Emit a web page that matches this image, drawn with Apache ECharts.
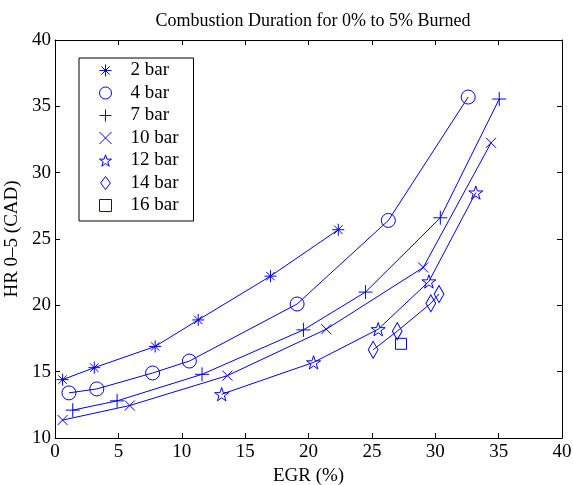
<!DOCTYPE html>
<html>
<head>
<meta charset="utf-8">
<script src="https://cdn.jsdelivr.net/npm/echarts@6/dist/echarts.min.js"></script>
<style>html,body{margin:0;padding:0;background:#fff;}#c{width:573px;height:485px;}</style>
</head>
<body>
<div id="c"></div>
<script>
// Data (EGR %, HR 0-5 CAD)
const seriesNames = ['2 bar', '4 bar', '7 bar', '10 bar', '12 bar', '14 bar', '16 bar'];
const bar2  = [[0.6, 14.4], [3.1, 15.3], [7.9, 16.9], [11.3, 18.9], [17.0, 22.2], [22.35, 25.7]];
const bar4  = [[1.1, 13.4], [3.3, 13.7], [7.7, 14.9], [10.6, 15.8], [19.1, 20.1], [26.3, 26.4], [32.6, 35.7]];
const bar7  = [[1.4, 12.1], [4.9, 12.8], [11.6, 14.8], [19.6, 18.15], [24.5, 21.0], [30.4, 26.6], [35.05, 35.55]];
const bar10 = [[0.6, 11.35], [5.9, 12.45], [13.6, 14.7], [21.4, 18.2], [29.05, 22.85], [34.4, 32.25]];
const bar12 = [[13.15, 13.3], [20.4, 15.7], [25.5, 18.2], [29.5, 21.8], [33.2, 28.5]];
const bar14 = [[25.1, 16.65], [27.0, 18.05], [29.65, 20.15], [30.3, 20.85]];
const bar16 = [[27.3, 17.1]];
const xTicks = [0, 5, 10, 15, 20, 25, 30, 35, 40];
const yTicks = [10, 15, 20, 25, 30, 35, 40];

const BLUE = '#0000ff';
const FONT = 'Liberation Serif';
const SYM = {
  asterisk: 'path://M5,0L5,10M0,5L10,5M1.5,1.5L8.5,8.5M1.5,8.5L8.5,1.5',
  circle: 'path://M10,0A10,10 0 1,1 9.99,0Z',
  plus: 'path://M5,0L5,10M0,5L10,5',
  cross: 'path://M0,0L10,10M0,10L10,0',
  star: 'path://M10,0L12.245,6.91L19.51,6.91L13.63,11.18L15.88,18.09L10,13.82L4.12,18.09L6.37,11.18L0.49,6.91L7.755,6.91Z',
  diamond: 'path://M6,0L12,8L6,16L0,8Z',
  square: 'path://M0,0L10,0L10,10L0,10Z'
};
const symbols = [SYM.asterisk, SYM.circle, SYM.plus, SYM.cross, SYM.star, SYM.diamond, SYM.square];
const sizes = [12, 14, 14, 10, 14, [13, 17], 11];
const datas = [bar2, bar4, bar7, bar10, bar12, bar14, bar16];

const chart = echarts.init(document.getElementById('c'), null, {renderer: 'canvas'});
const series = datas.map((d, i) => ({
  name: seriesNames[i],
  type: 'line',
  data: d,
  symbol: symbols[i],
  symbolSize: sizes[i],
  symbolKeepAspect: true,
  showAllSymbol: true,
  lineStyle: {color: BLUE, width: 1},
  itemStyle: {color: 'rgba(0,0,0,0)', borderColor: BLUE, borderWidth: 1},
  emphasis: {disabled: true},
  animation: false,
  z: 3
}));

const axisCommon = {
  type: 'value',
  axisLine: {show: true, onZero: false, lineStyle: {color: '#000', width: 1}},
  axisTick: {show: true, inside: true, length: 5, lineStyle: {color: '#000', width: 1}},
  splitLine: {show: false},
  interval: 5
};

chart.setOption({
  animation: false,
  backgroundColor: '#fff',
  title: {
    text: 'Combustion Duration for 0% to 5% Burned',
    left: 308, top: 7, textAlign: 'center',
    textStyle: {fontFamily: FONT, fontWeight: 'normal', fontSize: 18, color: '#000'}
  },
  legend: {
    orient: 'vertical',
    left: 79, top: 58,
    padding: [3, 15, 6, 20],
    itemGap: 3.5,
    itemWidth: 12, itemHeight: 13,
    backgroundColor: '#fff',
    borderColor: '#000', borderWidth: 1,
    borderRadius: 0,
    data: seriesNames.map((n, i) => ({name: n, icon: symbols[i]})),
    itemStyle: {color: 'rgba(0,0,0,0)', borderColor: BLUE, borderWidth: 1},
    textStyle: {fontFamily: FONT, fontSize: 19, lineHeight: 19, color: '#000', padding: [0, 0, 0, 14]},
    selectedMode: false
  },
  grid: {left: 55, right: 11, top: 40, bottom: 47, containLabel: false, outerBoundsMode: 'none'},
  xAxis: [
    Object.assign({}, axisCommon, {
      min: xTicks[0], max: xTicks[xTicks.length - 1], position: 'bottom',
      name: 'EGR (%)', nameLocation: 'middle', nameGap: 27,
      nameTextStyle: {fontFamily: FONT, fontSize: 19, color: '#000'},
      axisLabel: {fontFamily: FONT, fontSize: 19, color: '#000', margin: 5}
    }),
    Object.assign({}, axisCommon, {
      min: xTicks[0], max: xTicks[xTicks.length - 1], position: 'top',
      axisLabel: {show: false}
    })
  ],
  yAxis: [
    Object.assign({}, axisCommon, {
      min: yTicks[0], max: yTicks[yTicks.length - 1], position: 'left',
      name: 'HR 0–5 (CAD)', nameLocation: 'middle', nameGap: 31, nameRotate: 90,
      nameTextStyle: {fontFamily: FONT, fontSize: 19, color: '#000'},
      axisLabel: {fontFamily: FONT, fontSize: 19, color: '#000', margin: 4}
    }),
    Object.assign({}, axisCommon, {
      min: yTicks[0], max: yTicks[yTicks.length - 1], position: 'right',
      axisLabel: {show: false}
    })
  ],
  series: series
});
</script>
</body>
</html>
